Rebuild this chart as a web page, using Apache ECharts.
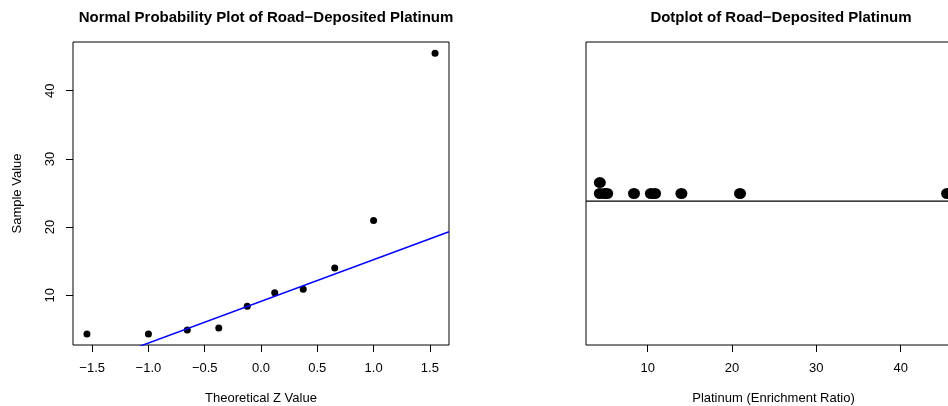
<!DOCTYPE html>
<html>
<head>
<meta charset="utf-8">
<script src="https://cdn.jsdelivr.net/npm/echarts@6/dist/echarts.min.js"></script>
<style>html,body{margin:0;padding:0;background:#fff;}#c{width:948px;height:406px;}</style>
</head>
<body>
<div id="c"></div>
<script>
// Data: road-deposited platinum (enrichment ratio), sorted
var platinum = [4.33, 4.33, 4.9, 5.2, 8.38, 10.38, 10.88, 14.0, 20.95, 45.5];
// Theoretical z values (normal scores)
var zValues = [-1.546, -1.0, -0.655, -0.375, -0.122, 0.122, 0.375, 0.655, 1.0, 1.546];
// Stack level of each dot in the dotplot
var stackLevel = [0, 1, 0, 0, 0, 0, 0, 0, 0, 0];
// Tick labels
var zTicks = [-1.5, -1.0, -0.5, 0.0, 0.5, 1.0, 1.5];
var sampleTicks = [10, 20, 30, 40];
var platTicks = [10, 20, 30, 40];

var FONT = '"Liberation Sans", Arial, Helvetica, sans-serif';
var AXFS = 13;
var TFS = 15;

// qqline: passes through first and third quartiles
function quantile7(arr, p) {
  var s = arr.slice().sort(function(a,b){return a-b;});
  var h = (s.length - 1) * p, lo = Math.floor(h);
  return s[lo] + (h - lo) * ((s[lo+1] !== undefined ? s[lo+1] : s[lo]) - s[lo]);
}
var q1 = quantile7(platinum, 0.25), q3 = quantile7(platinum, 0.75);
var zq = 0.6744897501960817;
var slope = (q3 - q1) / (2 * zq);
var intercept = q1 + zq * slope;

var zMin = -1.67, zMax = 1.67;
var yMin = 2.7, yMax = 47.15;
var pMin = 2.69, pMax = 47.15;

var qqPts = zValues.map(function(z, i){ return [z, platinum[i]]; });
var qqLine = [[zMin, intercept + slope * zMin], [zMax, intercept + slope * zMax]];

var dotBase = 1, dotStep = 0.039, dotLineY = 0.973;
var dotPts = platinum.map(function(v, i){ return [v, dotBase + stackLevel[i] * dotStep]; });

function fmtMinus(v){ var s = Number(v).toFixed(1); return s.replace('-', '\u2212'); }

var txt = {fontFamily: FONT, fontSize: AXFS, color: '#000'};
var tick = {show: true, inside: false, length: 7, lineStyle: {color: '#000', width: 1}};

var chart = echarts.init(document.getElementById('c'), null, {renderer: 'canvas'});
chart.setOption({
  animation: false,
  backgroundColor: '#fff',
  title: [
    {text: 'Normal Probability Plot of Road\u2212Deposited Platinum', left: 261, top: 5, textAlign: 'center',
     textStyle: {fontFamily: FONT, fontWeight: 'bold', fontSize: TFS, color: '#000'}},
    {text: 'Dotplot of Road\u2212Deposited Platinum', left: 776, top: 5, textAlign: 'center',
     textStyle: {fontFamily: FONT, fontWeight: 'bold', fontSize: TFS, color: '#000'}}
  ],
  grid: [
    {left: 73, top: 42, width: 376, height: 303, show: true, borderColor: '#000', borderWidth: 1,
     backgroundColor: 'transparent', containLabel: false, outerBoundsMode: 'none'},
    {left: 586, top: 42, width: 375, height: 303, show: true, borderColor: '#000', borderWidth: 1,
     backgroundColor: 'transparent', containLabel: false, outerBoundsMode: 'none'}
  ],
  xAxis: [
    {type: 'value', gridIndex: 0, min: zMin, max: zMax,
     name: 'Theoretical Z Value', nameLocation: 'middle', nameGap: 47, nameTextStyle: txt,
     axisLine: {show: false, onZero: false}, splitLine: {show: false},
     axisTick: Object.assign({customValues: zTicks}, tick),
     axisLabel: Object.assign({show: true, margin: 17, customValues: zTicks, formatter: fmtMinus}, txt)},
    {type: 'value', gridIndex: 1, min: pMin, max: pMax,
     name: 'Platinum (Enrichment Ratio)', nameLocation: 'middle', nameGap: 47, nameTextStyle: txt,
     axisLine: {show: false, onZero: false}, splitLine: {show: false},
     axisTick: Object.assign({customValues: platTicks}, tick),
     axisLabel: Object.assign({show: true, margin: 17, customValues: platTicks}, txt)}
  ],
  yAxis: [
    {type: 'value', gridIndex: 0, min: yMin, max: yMax,
     name: 'Sample Value', nameLocation: 'middle', nameGap: 49, nameRotate: 90, nameTextStyle: txt,
     axisLine: {show: false, onZero: false}, splitLine: {show: false},
     axisTick: Object.assign({customValues: sampleTicks}, tick),
     axisLabel: Object.assign({show: true, margin: 16, rotate: 90, customValues: sampleTicks}, txt)},
    {type: 'value', gridIndex: 1, min: 0.46, max: 1.54, show: false}
  ],
  series: [
    {type: 'scatter', xAxisIndex: 0, yAxisIndex: 0, data: qqPts, symbol: 'circle', symbolSize: 7,
     itemStyle: {color: '#000', opacity: 1}, silent: true},
    {type: 'line', xAxisIndex: 0, yAxisIndex: 0, data: qqLine, symbol: 'none', clip: true,
     lineStyle: {color: '#0000ff', width: 1.5}, silent: true},
    {type: 'line', xAxisIndex: 1, yAxisIndex: 1, data: [[pMin, dotLineY], [pMax, dotLineY]], symbol: 'none',
     lineStyle: {color: '#000', width: 1.2}, silent: true},
    {type: 'scatter', xAxisIndex: 1, yAxisIndex: 1, data: dotPts, symbol: 'circle', symbolSize: [12, 11],
     itemStyle: {color: '#000', opacity: 1}, silent: true}
  ]
});
</script>
</body>
</html>
